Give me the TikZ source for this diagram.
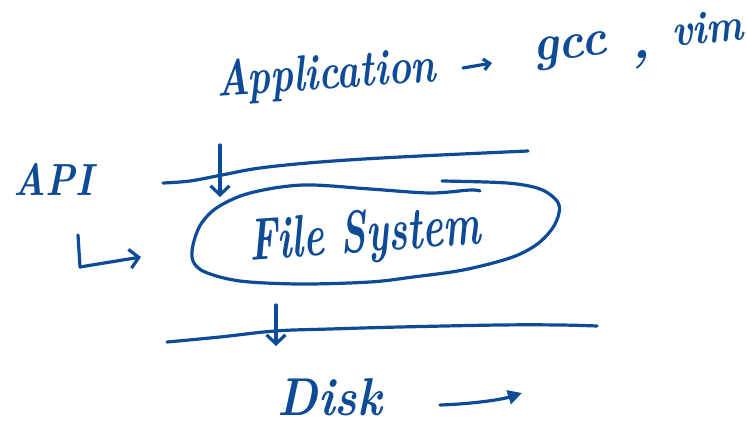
\documentclass[tikz,border=0pt]{standalone}
\usepackage{graphicx}
\usetikzlibrary{arrows.meta}
\definecolor{ink}{HTML}{0E4B96}
\tikzset{
  pen/.style={draw=ink, line width=3.2pt, line cap=round, line join=round},
  word/.style={text=ink, inner sep=0pt, anchor=base, font=\bfseries\itshape},
  barb/.style={-{Straight Barb[length=9pt,width=19pt]}},
  smallbarb/.style={-{Straight Barb[length=6pt,width=11pt]}},
  fattip/.style={-{Triangle[length=14pt,width=14pt]}}
}
% set a word to a given width and height above its baseline
\newcommand{\fitwh}[3]{\resizebox{#1}{#2}{#3}}
\begin{document}
\begin{tikzpicture}[x=1pt,y=-1pt]
\useasboundingbox (0,0) rectangle (747,425);

% labels
\node[word, rotate=4] (app) at (327,89) {\fitwh{220pt}{36pt}{Application}};
\node[word, rotate=6] (gcc) at (571,58) {\fitwh{74pt}{23pt}{gcc}};
\node[word] (comma) at (641,59) {\scalebox{5.5}{,}};
\node[word, rotate=6] (vim) at (709,43) {\fitwh{72pt}{31pt}{vim}};
\node[word] (api) at (53,195) {\fitwh{80pt}{32pt}{API}};
\node[word, rotate=4] (fs) at (366,252) {\fitwh{232pt}{42pt}{File System}};
\node[word] (disk) at (330,415) {\fitwh{104pt}{37pt}{Disk}};

% arrow endpoints
\coordinate (a1) at (463,68);  \coordinate (a2) at (492,63);
\coordinate (d1) at (220,145); \coordinate (d2) at (220,197);
\coordinate (e1) at (276,305); \coordinate (e2) at (276,346);
\coordinate (h1) at (78,235);  \coordinate (h2) at (80,267); \coordinate (h3) at (141,257);
\coordinate (k1) at (440,405); \coordinate (k2) at (522,393);

% boundary lines
\draw[pen] plot[smooth, tension=0.6] coordinates
  {(163,183) (190,181) (222,175) (260,168) (320,162) (400,157) (528,151)};
\draw[pen] plot[smooth, tension=0.6] coordinates
  {(167,342) (220,337) (275,331) (330,329) (400,327) (500,325) (560,325) (597,326)};

% loop around the file system
\draw[pen] plot[smooth, tension=0.55] coordinates
  {(442,181) (507,183) (540,189) (557,201) (559,213) (552,229) (536,245)
   (510,258) (463,270) (413,277) (370,282) (300,284) (240,281) (205,272)
   (193,261) (193,245) (201,224) (218,207) (250,193) (303,185) (370,189)
   (430,193) (470,190) (480,191)};

% arrows
\draw[pen, smallbarb] (a1) -- (a2);
\draw[pen, barb] (d1) -- (d2);
\draw[pen, barb] (e1) -- (e2);
\draw[pen, barb] (h1) -- (h2) -- (h3);
\draw[pen, fattip] (k1) .. controls (470,404) and (500,400) .. (k2);
\end{tikzpicture}
\end{document}
